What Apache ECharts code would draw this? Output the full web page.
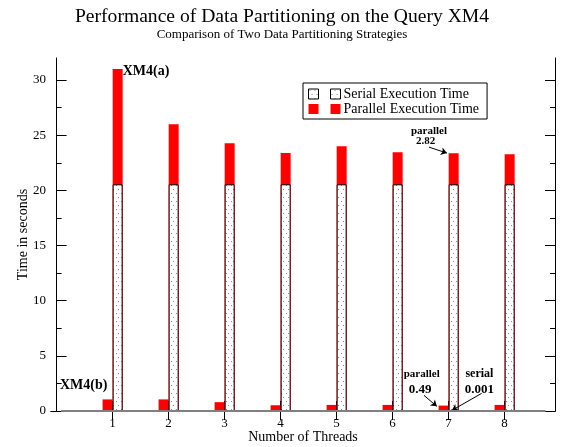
<!DOCTYPE html>
<html>
<head>
<meta charset="utf-8">
<script src="https://cdn.jsdelivr.net/npm/echarts@6/dist/echarts.min.js"></script>
<style>
  html, body { margin: 0; padding: 0; background: #fff; }
  #chart { width: 564px; height: 447px; }
</style>
</head>
<body>
<div id="chart"></div>
<script>
// ---- data ----
const threads = [1, 2, 3, 4, 5, 6, 7, 8];
// XM4(a): tall stacked bars
const serialA = [20.55, 20.55, 20.55, 20.55, 20.55, 20.55, 20.55, 20.55];
const parallelA = [10.45, 5.45, 3.73, 2.83, 3.45, 2.9, 2.82, 2.73];
// XM4(b): small bars
const serialB = [0.001, 0.001, 0.001, 0.001, 0.001, 0.001, 0.001, 0.001];
const parallelB = [1.05, 1.05, 0.8, 0.52, 0.55, 0.55, 0.49, 0.55];
const xTicks = [1, 2, 3, 4, 5, 6, 7, 8];
const yTicks = [0, 5, 10, 15, 20, 25, 30];
const yMinorTicks = [2.5, 7.5, 12.5, 17.5, 22.5, 27.5];

const SERIF = 'Liberation Serif';
const offset = 0.09; // half bar width in axis units

// dotted fill pattern for the serial bars
const pc = document.createElement('canvas');
pc.width = 5; pc.height = 8;
const pctx = pc.getContext('2d');
pctx.fillStyle = '#fff'; pctx.fillRect(0, 0, 5, 8);
pctx.fillStyle = '#8a8a8a';
pctx.fillRect(1, 1, 1, 1);
pctx.fillRect(3, 5, 1, 1);
const dotted = { image: pc, repeat: 'repeat' };

const chart = echarts.init(document.getElementById('chart'), null, { renderer: 'canvas' });

const mkAxisY = (pos, values, len, showLine, showLabel, extra) => Object.assign({
  type: 'value', position: pos, min: 0, max: 32,
  axisLine: { show: showLine, lineStyle: { color: '#000', width: 1 } },
  axisTick: { show: true, inside: true, length: len, customValues: values, lineStyle: { color: '#000' } },
  axisLabel: { show: showLabel, customValues: yTicks, color: '#000', fontFamily: SERIF, fontSize: 13, margin: 5 },
  splitLine: { show: false }
}, extra || {});

// stacked look: the red part is drawn from the stack top down, the serial part over it
const stackTop = (base, top) => base.map((v, i) => v + top[i]);

const option = {
  animation: false,
  backgroundColor: '#fff',
  title: {
    text: 'Performance of Data Partitioning on the Query XM4',
    subtext: 'Comparison of Two Data Partitioning Strategies',
    left: 'center', top: 2, itemGap: 1,
    textStyle: { fontFamily: SERIF, fontSize: 19.6, lineHeight: 20, fontWeight: 'normal', color: '#000' },
    subtextStyle: { fontFamily: SERIF, fontSize: 13, lineHeight: 14, color: '#000' }
  },
  legend: {
    orient: 'vertical', left: 303, top: 83,
    padding: [4, 8, 3, 5], itemGap: 1,
    borderColor: '#000', borderWidth: 1,
    itemWidth: 32, itemHeight: 10,
    icon: 'path://M0,0h10v10h-10z M22,0h10v10h-10z',
    textStyle: { fontFamily: SERIF, fontSize: 14, color: '#000', padding: [0, 0, 0, -2] },
    data: [
      { name: 'Serial Execution Time', itemStyle: { color: dotted, borderColor: '#000', borderWidth: 1 } },
      { name: 'Parallel Execution Time', itemStyle: { color: '#ff0000', borderWidth: 0 } }
    ]
  },
  grid: { left: 51, right: 9, top: 58, bottom: 36, outerBoundsMode: 'none', containLabel: false },
  xAxis: [
    {
      type: 'value', position: 'bottom', min: -0.1, max: 8.9,
      name: 'Number of Threads', nameLocation: 'middle', nameGap: 19, nameMoveOverlap: false,
      nameTextStyle: { fontFamily: SERIF, fontSize: 14, color: '#000', verticalAlign: 'top' },
      axisLine: { lineStyle: { color: '#000', width: 1 } },
      axisTick: { inside: true, length: 10, customValues: xTicks, lineStyle: { color: '#000' } },
      axisLabel: { customValues: xTicks, color: '#000', fontFamily: SERIF, fontSize: 13, margin: 6 },
      splitLine: { show: false }
    },
    {
      type: 'value', position: 'top', min: -0.1, max: 8.9,
      axisLine: { lineStyle: { color: '#000', width: 1 } },
      axisTick: { inside: true, length: 9, customValues: xTicks, lineStyle: { color: '#000' } },
      axisLabel: { show: false },
      splitLine: { show: false }
    }
  ],
  yAxis: [
    mkAxisY('left', yTicks, 10, true, true, {
      name: 'Time in seconds', nameLocation: 'middle', nameGap: 21, nameMoveOverlap: false,
      nameTextStyle: { fontFamily: SERIF, fontSize: 14, color: '#000' }
    }),
    mkAxisY('left', yMinorTicks, 5, false, false),
    mkAxisY('right', yTicks, 10, true, false),
    mkAxisY('right', yMinorTicks, 5, false, false)
  ],
  series: [
    {
      name: 'Parallel Execution Time', type: 'bar', barWidth: 10, barGap: '-100%', z: 2,
      data: threads.map((t, i) => [t + offset, stackTop(serialA, parallelA)[i]]),
      itemStyle: { color: '#ff0000' },
      emphasis: { disabled: true },
      markLine: {
        silent: true, symbol: ['none', 'arrow'], symbolSize: 6, label: { show: false },
        lineStyle: { color: '#000', width: 1, type: 'solid' },
        data: [
          [{ coord: [6.65, 23.92] }, { coord: [6.97, 23.38] }],
          [{ coord: [6.56, 1.42] }, { coord: [6.79, 0.42] }],
          [{ coord: [7.59, 1.6] }, { coord: [7.06, 0.06] }]
        ]
      },
      markPoint: {
        silent: true, symbol: 'circle', symbolSize: 1,
        itemStyle: { color: 'rgba(0,0,0,0)' },
        label: { show: true, position: 'inside', color: '#000', fontFamily: SERIF, fontWeight: 'bold' },
        data: [
          { coord: [1.18, 30.78], label: { formatter: 'XM4(a)', fontSize: 14, align: 'left' } },
          { coord: [0.06, 2.32], label: { formatter: 'XM4(b)', fontSize: 14, align: 'left' } },
          { coord: [6.65, 25.36], label: { formatter: 'parallel', fontSize: 11 } },
          { coord: [6.59, 24.46], label: { formatter: '2.82', fontSize: 11 } },
          { coord: [6.52, 3.32], label: { formatter: 'parallel', fontSize: 11 } },
          { coord: [6.49, 1.96], label: { formatter: '0.49', fontSize: 13 } },
          { coord: [7.55, 3.32], label: { formatter: 'serial', fontSize: 12 } },
          { coord: [7.55, 1.96], label: { formatter: '0.001', fontSize: 13 } }
        ]
      }
    },
    {
      name: 'Serial Execution Time', type: 'bar', barWidth: 10, barGap: '-100%', z: 3,
      data: threads.map((t, i) => [t + offset, serialA[i]]),
      itemStyle: { color: dotted, borderColor: '#000', borderWidth: 1 },
      emphasis: { disabled: true },
      markLine: {
        silent: true, symbol: 'none', label: { show: false },
        lineStyle: { color: '#808080', width: 2, type: 'solid' },
        data: [[{ coord: [0.08, 0] }, { coord: [8.73, 0] }]]
      }
    },
    {
      name: 'Parallel Execution Time', type: 'bar', barWidth: 10, barGap: '-100%', z: 2,
      data: threads.map((t, i) => [t - offset, stackTop(serialB, parallelB)[i]]),
      itemStyle: { color: '#ff0000' },
      emphasis: { disabled: true }
    },
    {
      name: 'Serial Execution Time', type: 'bar', barWidth: 10, barGap: '-100%', z: 3,
      data: threads.map((t, i) => [t - offset, serialB[i]]),
      itemStyle: { color: dotted, borderColor: '#000', borderWidth: 0 },
      emphasis: { disabled: true }
    }
  ]
};
chart.setOption(option);
</script>
</body>
</html>
